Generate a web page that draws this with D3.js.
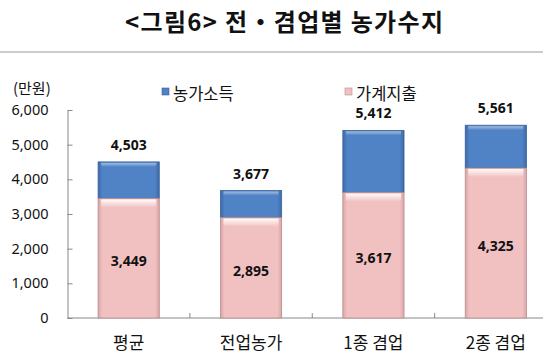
<!DOCTYPE html>
<html><head><meta charset="utf-8">
<script src="https://cdn.jsdelivr.net/npm/d3@7"></script>
<style>
body{margin:0;background:#fff;}
svg{display:block;font-family:"Noto Sans CJK KR","Noto Sans",sans-serif;}
</style></head>
<body><svg id="c" width="543" height="358"></svg>
<script>
const categories = ["평균", "전업농가", "1종 겸업", "2종 겸업"];
const income = [4503, 3677, 5412, 5561];      // 농가소득
const expense = [3449, 2895, 3617, 4325];     // 가계지출
const yTicks = [0, 1000, 2000, 3000, 4000, 5000, 6000];
const seriesNames = ["농가소득", "가계지출"];
const titleText = "<그림6> 전・겸업별 농가수지";
const unitText = "(만원)";

(function () {
const svg = d3.select("#c");
const pL = 67.5, pR = 557, pT = 110, pB = 318;
const x = d3.scaleBand().domain(categories).range([pL, pR]).paddingInner(0.5).paddingOuter(0.25);
const y = d3.scaleLinear().domain([0, 6000]).range([pB, pT]);

const defs = svg.append("defs");
function hgrad(id, edge, mid) {
  const g = defs.append("linearGradient").attr("id", id).attr("x1", 0).attr("x2", 1).attr("y1", 0).attr("y2", 0);
  [[0, edge], [0.07, mid], [0.93, mid], [1, edge]].forEach(([o, c]) => g.append("stop").attr("offset", o).attr("stop-color", c));
}
hgrad("gBlue", "#3d6aa8", "#5082c6");
hgrad("gPink", "#d9a6a6", "#f1c1c1");
const hl = defs.append("linearGradient").attr("id", "gHl").attr("x1", 0).attr("x2", 0).attr("y1", 0).attr("y2", 1);
hl.append("stop").attr("offset", 0).attr("stop-color", "#fff").attr("stop-opacity", 0.95);
hl.append("stop").attr("offset", 1).attr("stop-color", "#fff").attr("stop-opacity", 0);

// title
svg.append("text").attr("x", 125).attr("y", 31)
  .attr("textLength", 318).attr("lengthAdjust", "spacing")
  .attr("font-size", 24).attr("font-weight", "bold").attr("fill", "#111").text(titleText);
svg.append("line").attr("x1", 0).attr("x2", 543).attr("y1", 52).attr("y2", 52).attr("stroke", "#999").attr("stroke-width", 1);

// axes
const yAxis = d3.axisLeft(y).tickValues(yTicks).tickFormat(d3.format(",")).tickSizeInner(-5).tickSizeOuter(0).tickPadding(19);
const gy = svg.append("g").attr("transform", `translate(${pL},0)`).call(yAxis);
gy.selectAll("text").attr("font-size", 14.5).attr("fill", "#111").attr("font-family", "'Noto Sans','Noto Sans CJK KR',sans-serif");
gy.selectAll("line").attr("stroke", "#888");
gy.select(".domain").attr("stroke", "#888");

// x axis line + boundary ticks
svg.append("line").attr("x1", pL).attr("x2", 543).attr("y1", pB).attr("y2", pB).attr("stroke", "#888");
d3.range(1, categories.length).forEach(i => {
  const bx = pL + i * (pR - pL) / categories.length;
  svg.append("line").attr("x1", bx).attr("x2", bx).attr("y1", pB).attr("y2", pB - 5).attr("stroke", "#888");
});

svg.selectAll(".xl").data(categories).enter().append("text")
  .attr("x", d => x(d) + x.bandwidth() / 2).attr("y", 349).attr("text-anchor", "middle")
  .attr("font-size", 17).attr("fill", "#111").text(d => d);

// bars
const bw = x.bandwidth();
const g = svg.append("g");
const fmt = d3.format(",");
categories.forEach((c, i) => {
  const bx = x(c);
  g.append("rect").attr("x", bx).attr("y", y(income[i])).attr("width", bw).attr("height", y(expense[i]) - y(income[i]))
    .attr("fill", "url(#gBlue)").attr("stroke", "#39629a").attr("stroke-width", 0.8);
  g.append("rect").attr("x", bx + 3).attr("y", y(income[i]) + 1).attr("width", bw - 6).attr("height", 4).attr("fill", "url(#gHl)").attr("opacity", 0.5);
  g.append("rect").attr("x", bx).attr("y", y(expense[i])).attr("width", bw).attr("height", pB - y(expense[i]))
    .attr("fill", "url(#gPink)").attr("stroke", "#b88c8c").attr("stroke-width", 0.8);
  g.append("rect").attr("x", bx + 3).attr("y", y(expense[i]) + 1).attr("width", bw - 6).attr("height", 8).attr("fill", "url(#gHl)");
  g.append("text").attr("x", bx + bw / 2).attr("y", y(income[i]) - 12).attr("text-anchor", "middle")
    .attr("font-size", 14).attr("font-weight", "bold").attr("fill", "#111").attr("font-family", "'Noto Sans',sans-serif").text(fmt(income[i]));
  g.append("text").attr("x", bx + bw / 2).attr("y", (y(expense[i]) + pB) / 2 + 8).attr("text-anchor", "middle")
    .attr("font-size", 14).attr("font-weight", "bold").attr("fill", "#111").attr("font-family", "'Noto Sans',sans-serif").text(fmt(expense[i]));
});

// unit label
svg.append("text").attr("x", 13).attr("y", 94).attr("font-size", 15).attr("fill", "#111").text(unitText);

// legend
const legX = [162, 345];
const legFill = ["url(#gBlue)", "url(#gPink)"];
const legStroke = ["#39629a", "#b88c8c"];
seriesNames.forEach((n, i) => {
  svg.append("rect").attr("x", legX[i]).attr("y", 88).attr("width", 7).attr("height", 7)
    .attr("fill", legFill[i]).attr("stroke", legStroke[i]).attr("stroke-width", 0.6);
  svg.append("text").attr("x", legX[i] + 11).attr("y", 100).attr("font-size", 16.5).attr("fill", "#111").text(n);
});
})();
</script></body></html>
